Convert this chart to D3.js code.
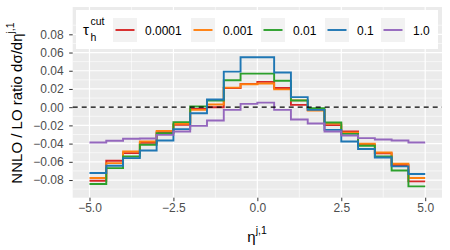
<!DOCTYPE html>
<html>
<head>
<meta charset="utf-8">
<script src="https://cdn.jsdelivr.net/npm/d3@7"></script>
<style>
  body { margin: 0; background: #fff; }
  text { font-family: "Liberation Sans", Arial, sans-serif; }
</style>
</head>
<body>
<svg width="450" height="250"></svg>
<script>
// bin left edges, eta from -5 to 5 in steps of 0.5
var binEdges = [-5, -4.5, -4, -3.5, -3, -2.5, -2, -1.5, -1, -0.5, 0, 0.5, 1, 1.5, 2, 2.5, 3, 3.5, 4, 4.5];
var lastEdge = 5;

var tauLabels = ["0.0001", "0.001", "0.01", "0.1", "1.0"];
var tauColors = ["#d62728", "#ff7f0e", "#2ca02c", "#1f77b4", "#9467bd"];

var ratio_00001 = [-0.0808, -0.0588, -0.0504, -0.0390, -0.0274, -0.0194, -0.0019, 0.0000, 0.0210, 0.0255,
                   0.0278, 0.0210, 0.0025, -0.0030, -0.0197, -0.0267, -0.0415, -0.0507, -0.0635, -0.0815];
var ratio_0001 = [-0.0778, -0.0614, -0.0486, -0.0377, -0.0260, -0.0183, -0.0030, 0.0030, 0.0215, 0.0252,
                  0.0260, 0.0195, 0.0075, -0.0037, -0.0180, -0.0280, -0.0402, -0.0497, -0.0621, -0.0778];
var ratio_001 = [-0.0844, -0.0669, -0.0541, -0.0413, -0.0285, -0.0164, 0.0007, 0.0073, 0.0295, 0.0368,
                 0.0368, 0.0290, 0.0073, -0.0010, -0.0168, -0.0293, -0.0424, -0.0541, -0.0695, -0.0870];
var ratio_01 = [-0.0723, -0.0643, -0.0559, -0.0475, -0.0366, -0.0241, -0.0066, 0.0085, 0.0390, 0.0548,
                0.0548, 0.0380, 0.0110, -0.0030, -0.0249, -0.0377, -0.0460, -0.0552, -0.0650, -0.0734];
var ratio_1 = [-0.0388, -0.0369, -0.0347, -0.0344, -0.0304, -0.0267, -0.0205, -0.0147, -0.0030, 0.0036,
               0.0050, -0.0030, -0.0135, -0.0180, -0.0267, -0.0311, -0.0340, -0.0355, -0.0366, -0.0388];

var xTicks = [-5, -2.5, 0, 2.5, 5];
var xMinor = [-3.75, -1.25, 1.25, 3.75];
var yTicks = [-0.08, -0.06, -0.04, -0.02, 0, 0.02, 0.04, 0.06, 0.08];
var yMinor = [-0.09, -0.07, -0.05, -0.03, -0.01, 0.01, 0.03, 0.05, 0.07, 0.09];

var series = [ratio_00001, ratio_0001, ratio_001, ratio_01, ratio_1];

var svg = d3.select("svg");
var panel = {left: 72.7, right: 442, top: 7, bottom: 197.7};

var x = d3.scaleLinear().domain([-5.5, 5.5]).range([panel.left, panel.right]);
var y = d3.scaleLinear().domain([-0.0994, 0.110]).range([panel.bottom, panel.top]);

// panel background
svg.append("rect")
  .attr("x", panel.left).attr("y", panel.top)
  .attr("width", panel.right - panel.left)
  .attr("height", panel.bottom - panel.top)
  .attr("fill", "#ebebeb");

var grid = svg.append("g");
grid.selectAll(".ymin").data(yMinor).enter().append("line")
  .attr("x1", panel.left).attr("x2", panel.right)
  .attr("y1", d => y(d)).attr("y2", d => y(d))
  .attr("stroke", "#fff").attr("stroke-width", 0.6);
grid.selectAll(".xmin").data(xMinor).enter().append("line")
  .attr("y1", panel.top).attr("y2", panel.bottom)
  .attr("x1", d => x(d)).attr("x2", d => x(d))
  .attr("stroke", "#fff").attr("stroke-width", 0.6);
grid.selectAll(".ymaj").data(yTicks).enter().append("line")
  .attr("x1", panel.left).attr("x2", panel.right)
  .attr("y1", d => y(d)).attr("y2", d => y(d))
  .attr("stroke", "#fff").attr("stroke-width", 1.2);
grid.selectAll(".xmaj").data(xTicks).enter().append("line")
  .attr("y1", panel.top).attr("y2", panel.bottom)
  .attr("x1", d => x(d)).attr("x2", d => x(d))
  .attr("stroke", "#fff").attr("stroke-width", 1.2);

// step lines
var line = d3.line()
  .x(d => x(d[0]))
  .y(d => y(d[1]))
  .curve(d3.curveStepAfter);

series.forEach(function(vals, i){
  var pts = binEdges.map((e, j) => [e, vals[j]]);
  pts.push([lastEdge, vals[vals.length - 1]]);
  svg.append("path")
    .datum(pts)
    .attr("fill", "none")
    .attr("stroke", tauColors[i])
    .attr("stroke-width", 1.9)
    .attr("d", line);
});

// zero line
svg.append("line")
  .attr("x1", panel.left).attr("x2", panel.right)
  .attr("y1", y(0)).attr("y2", y(0))
  .attr("stroke", "#000").attr("stroke-width", 1.3)
  .attr("stroke-dasharray", "5,4");

// axes
var xAxis = svg.append("g")
  .attr("transform", `translate(0, ${panel.bottom})`)
  .call(d3.axisBottom(x).tickValues(xTicks).tickFormat(d3.format(".1f")).tickSize(3.5).tickPadding(2.5));
var yAxis = svg.append("g")
  .attr("transform", `translate(${panel.left}, 0)`)
  .call(d3.axisLeft(y).tickValues(yTicks).tickFormat(d3.format(".2f")).tickSize(3.5).tickPadding(5.5));

[xAxis, yAxis].forEach(function(a){
  a.select(".domain").remove();
  a.selectAll(".tick line").attr("stroke", "#333").attr("stroke-width", 1);
  a.selectAll(".tick text").attr("fill", "#4d4d4d")
    .style("font-size", "12px")
    .style("font-family", "Liberation Sans, Arial, sans-serif");
});

// axis titles
var xt = svg.append("text")
  .attr("x", 257).attr("y", 242)
  .attr("text-anchor", "middle")
  .style("font-size", "15px");
xt.append("tspan").text("η");
xt.append("tspan").attr("dy", -8).style("font-size", "10.5px").text("j,1");

var yt = svg.append("text")
  .attr("transform", "translate(22, 103) rotate(-90)")
  .attr("text-anchor", "middle")
  .style("font-size", "15px");
yt.append("tspan").text("NNLO / LO ratio dσ/dη");
yt.append("tspan").attr("dy", -8).style("font-size", "10.5px").text("j,1");

// legend
var legend = svg.append("g");
legend.append("rect")
  .attr("x", 76).attr("y", 10).attr("width", 362).attr("height", 39)
  .attr("fill", "#fff");
legend.append("text").attr("x", 83).attr("y", 35).style("font-size", "15px").text("τ");
legend.append("text").attr("x", 90.5).attr("y", 25).style("font-size", "10.5px").text("cut");
legend.append("text").attr("x", 90.5).attr("y", 41).style("font-size", "10.5px").text("h");

var keyX = [113, 191, 261, 325, 381];
tauLabels.forEach(function(lab, i){
  var k = legend.append("g").attr("transform", `translate(${keyX[i]}, 18)`);
  k.append("rect").attr("width", 24).attr("height", 24).attr("fill", "#f2f2f2");
  k.append("line").attr("x1", 2.5).attr("x2", 21.5).attr("y1", 12).attr("y2", 12)
    .attr("stroke", tauColors[i]).attr("stroke-width", 1.9);
  k.append("text").attr("x", 32).attr("y", 16.5).attr("fill", "#000")
    .style("font-size", "12px").text(lab);
});
</script>
</body>
</html>
